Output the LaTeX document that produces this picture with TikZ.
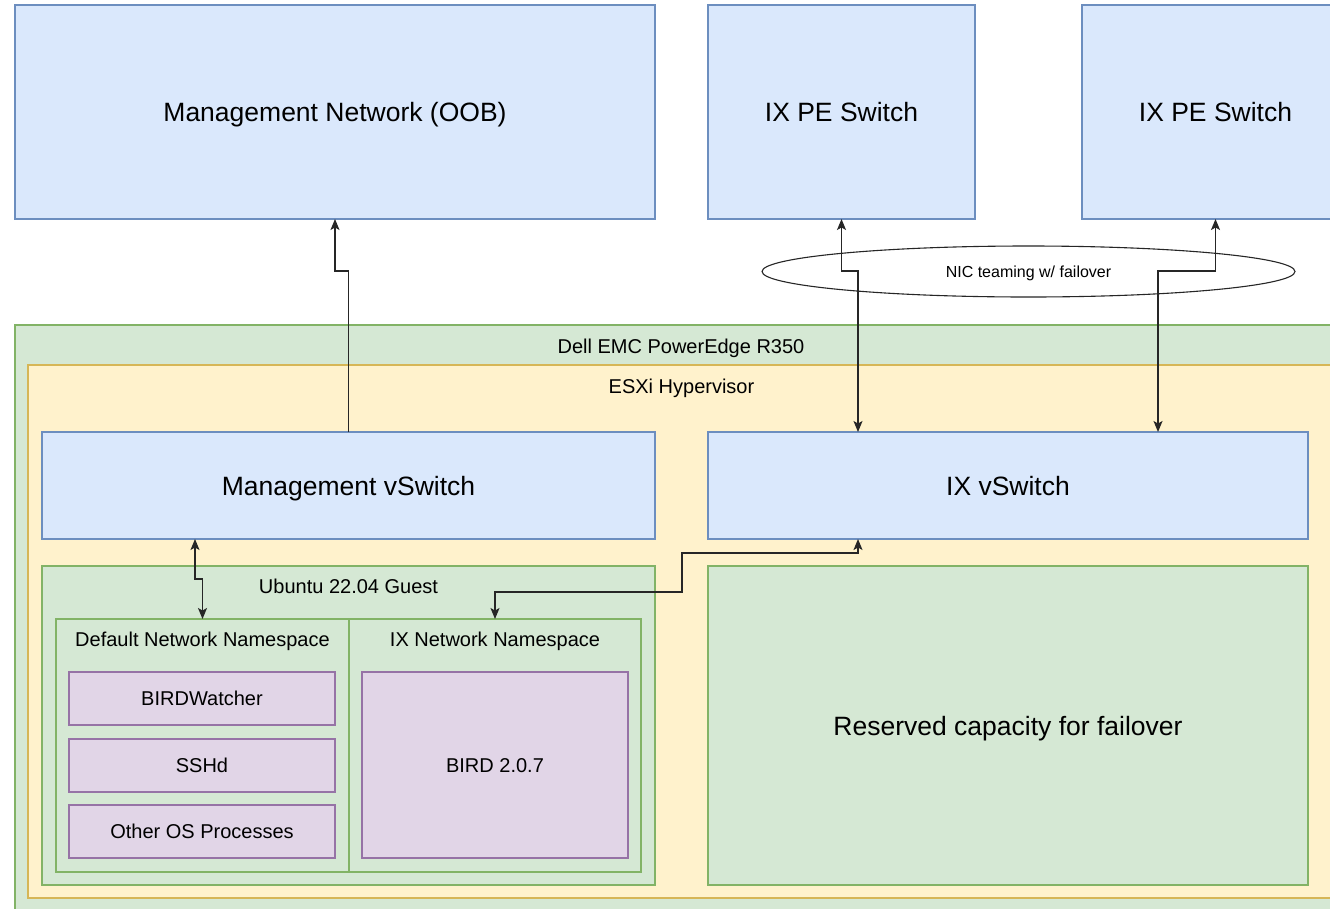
\documentclass[tikz,border=0pt]{standalone}
\usepackage{fontspec}
\setmainfont{Liberation Sans}
\usetikzlibrary{arrows.meta,shapes.geometric,calc}
\definecolor{bluefill}{HTML}{DAE8FC}
\definecolor{bluedraw}{HTML}{6C8EBF}
\definecolor{greenfill}{HTML}{D5E8D4}
\definecolor{greendraw}{HTML}{82B366}
\definecolor{yellowfill}{HTML}{FFF2CC}
\definecolor{yellowdraw}{HTML}{D6B656}
\definecolor{purplefill}{HTML}{E1D5E7}
\definecolor{purpledraw}{HTML}{9673A6}
\tikzset{
  base/.style={rectangle, inner sep=0pt, outer sep=0pt, line width=1.1pt},
  bluebox/.style={base, fill=bluefill, draw=bluedraw},
  greenbox/.style={base, fill=greenfill, draw=greendraw},
  yellowbox/.style={base, fill=yellowfill, draw=yellowdraw},
  purplebox/.style={base, fill=purplefill, draw=purpledraw},
  bigtxt/.style={font=\fontsize{26.5}{30}\selectfont, text height=19pt, text depth=0pt},
  smalltxt/.style={font=\fontsize{20}{24}\selectfont, text height=14.3pt, text depth=0pt},
  ttl/.style={inner sep=0pt, font=\fontsize{20}{24}\selectfont, text height=14.3pt, text depth=0pt},
  conn/.style={line width=1.2pt, draw=black!85},
  arr/.style={conn, -{Stealth[length=11pt,width=9pt,inset=2.5pt]}},
  arrb/.style={conn, {Stealth[length=11pt,width=9pt,inset=2.5pt]}-{Stealth[length=11pt,width=9pt,inset=2.5pt]}},
}
\begin{document}
\begin{tikzpicture}[x=1pt,y=-1pt]
\useasboundingbox (0,0) rectangle (1330,908);
\fill[white] (0,0) rectangle (1330,908);
\clip (0,0) rectangle (1330,908);

% top boxes
\node[bluebox, bigtxt, minimum width=640pt, minimum height=214pt] (oob) at (335,112) {Management Network (OOB)};
\node[bluebox, bigtxt, minimum width=267pt, minimum height=214pt] (pe1) at (841.5,112) {IX PE Switch};
\node[bluebox, bigtxt, minimum width=267pt, minimum height=214pt] (pe2) at (1215.5,112) {IX PE Switch};

% containers
\node[greenbox, minimum width=1332pt, minimum height=600pt, anchor=north west] (dell) at (15,325) {};
\node[ttl] (dellT) at (681,346) {Dell EMC PowerEdge R350};
\node[yellowbox, minimum width=1307pt, minimum height=533pt, anchor=north west] (esxi) at (28,365) {};
\node[ttl] (esxiT) at (681.5,386) {ESXi Hypervisor};

\node[bluebox, bigtxt, minimum width=613pt, minimum height=107pt] (mvs) at (348.5,485.5) {Management vSwitch};
\node[bluebox, bigtxt, minimum width=600pt, minimum height=107pt] (ixvs) at (1008,485.5) {IX vSwitch};

\node[greenbox, minimum width=613pt, minimum height=319pt] (ubu) at (348.5,725.5) {};
\node[ttl] (ubuT) at (348.5,586) {Ubuntu 22.04 Guest};
\node[greenbox, minimum width=293pt, minimum height=253pt] (dns) at (202.5,745.5) {};
\node[ttl] (dnsT) at (202.5,639) {Default Network Namespace};
\node[greenbox, minimum width=292pt, minimum height=253pt] (ixns) at (495,745.5) {};
\node[ttl] (ixnsT) at (495,639) {IX Network Namespace};

\node[purplebox, smalltxt, minimum width=266pt, minimum height=53pt] (bw) at (202,698.5) {BIRDWatcher};
\node[purplebox, smalltxt, minimum width=266pt, minimum height=53pt] (ssh) at (202,765.5) {SSHd};
\node[purplebox, smalltxt, minimum width=266pt, minimum height=53pt] (oth) at (202,831.5) {Other OS Processes};
\node[purplebox, smalltxt, minimum width=266pt, minimum height=186pt] (bird) at (495,765) {BIRD 2.0.7};

\node[greenbox, bigtxt, minimum width=600pt, minimum height=319pt] (res) at (1008,725.5) {Reserved capacity for failover};

% ellipse
\node[ellipse, draw=black!85, line width=1.1pt, fill=none, minimum width=533pt, minimum height=51pt, inner sep=0pt,
      text height=11.5pt, text depth=0pt, font=\fontsize{16}{19}\selectfont] (team) at (1028.5,271.5) {NIC teaming w/ failover};

% connectors
\draw[arr] (mvs.north) -- (mvs.north |- 0,271) -| (oob.south);
\draw[arrb] (pe1.south) -- (pe1.south |- 0,271) -| ([xshift=150pt]ixvs.north west);
\draw[arrb] (pe2.south) -- (pe2.south |- 0,271) -| ([xshift=450pt]ixvs.north west);
\draw[arrb] ([xshift=153pt]mvs.south west) -- ([xshift=153pt]mvs.south west |- 0,579) -| (dns.north);
\draw[arrb] ([xshift=150pt]ixvs.south west) -- ([xshift=150pt]ixvs.south west |- 0,553) -- (682,553) -- (682,592) -| (ixns.north);
\end{tikzpicture}
\end{document}
